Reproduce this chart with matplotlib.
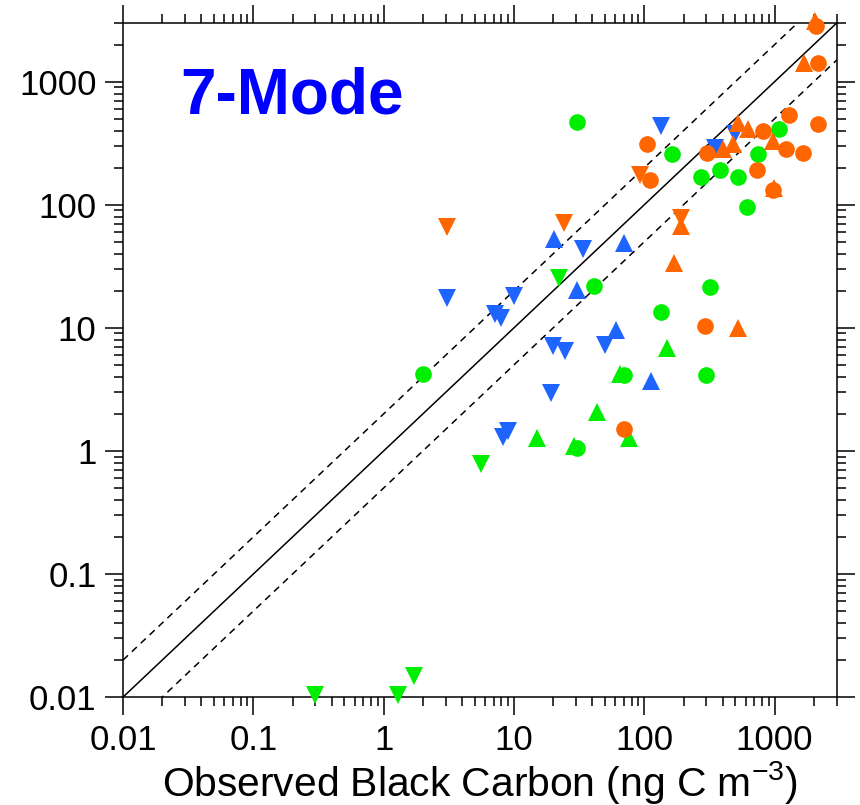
import matplotlib
matplotlib.use("Agg")
import matplotlib.pyplot as plt
import numpy as np
from matplotlib.ticker import LogLocator, FixedLocator, NullFormatter

plt.rcParams.update({'font.family': 'Liberation Sans',
                     'mathtext.fontset': 'custom',
                     'mathtext.rm': 'Liberation Sans',
                     'mathtext.it': 'Liberation Sans:italic'})

# observed (x) vs modelled (y) black carbon, ng C m-3
orange_circle_x = [2080, 2170, 1300, 2170, 817, 1214, 1640, 304, 105, 111, 734, 980, 293, 70.3]
orange_circle_y = [2850, 1430, 540, 456, 400, 286, 265, 265, 314, 160, 190, 133, 10.4, 1.51]
orange_up_x = [2050, 1670, 525, 627, 965, 403, 481, 985, 190, 170, 525]
orange_up_y = [3100, 1430, 465, 416, 332, 286, 314, 138, 67.6, 33.7, 10]
orange_down_x = [93, 192, 3.04, 24.2]
orange_down_y = [173, 78.4, 66.3, 71.4]

blue_up_x = [20.2, 69.6, 30.4, 61, 113]
blue_up_y = [53, 49.2, 20.3, 9.6, 3.7]
blue_down_x = [135, 498, 350, 33.8, 3.04, 10, 7.2, 7.9, 20.1, 24.8, 50.3, 19.4, 8.17, 9.08]
blue_down_y = [440, 378, 291, 44, 17.5, 18.2, 13.0, 12.1, 7.14, 6.5, 7.3, 2.95, 1.3, 1.45]

green_circle_x = [30.4, 1073, 748, 164, 273, 382, 525, 615, 41, 2.02, 135, 320, 69.6, 299, 30.7]
green_circle_y = [470, 416, 260, 260, 169, 193, 169, 96, 21.9, 4.2, 13.5, 21.5, 4.14, 4.14, 1.06]
green_up_x = [150, 65, 43.6, 75.7, 15.1, 29]
green_up_y = [6.9, 4.2, 2.07, 1.27, 1.27, 1.1]
green_down_x = [22.1, 5.54, 0.297, 1.3, 1.7]
green_down_y = [25.5, 0.78, 0.0104, 0.0104, 0.0148]

tick_values = [0.01, 0.1, 1, 10, 100, 1000]
tick_labels = ["0.01", "0.1", "1", "10", "100", "1000"]

c_orange = '#FF6600'
c_blue = '#1E64FF'
c_green = '#00EE00'

fig = plt.figure(figsize=(8.6, 8.05), dpi=100)
ax = fig.add_axes([0.143, 0.134, 0.830, 0.8375])
ax.set_xscale('log')
ax.set_yscale('log')
lims = [0.01, 3000]

# 1:1 and factor of 2 lines
line_x = np.array([0.01, 3000])
ax.plot(line_x, line_x, color='black', lw=1.1, zorder=1)
ax.plot(line_x, 2 * line_x, color='black', lw=1.1, ls=(0, (4.5, 3.5)), zorder=1)
ax.plot(line_x, 0.5 * line_x, color='black', lw=1.1, ls=(0, (4.5, 3.5)), zorder=1)

groups = [
    (green_up_x, green_up_y, c_green, '^'),
    (green_down_x, green_down_y, c_green, 'v'),
    (green_circle_x, green_circle_y, c_green, 'o'),
    (blue_up_x, blue_up_y, c_blue, '^'),
    (blue_down_x, blue_down_y, c_blue, 'v'),
    (orange_up_x, orange_up_y, c_orange, '^'),
    (orange_down_x, orange_down_y, c_orange, 'v'),
    (orange_circle_x, orange_circle_y, c_orange, 'o'),
]
for gx, gy, col, mk in groups:
    ms = 12 if mk == 'o' else 13
    ax.plot(gx, gy, linestyle='none', marker=mk, markersize=ms,
            color=col, markeredgewidth=0, clip_on=False, zorder=3)

for axis in [ax.xaxis, ax.yaxis]:
    axis.set_major_locator(FixedLocator(tick_values))
    axis.set_minor_locator(LogLocator(base=10, subs=np.arange(2, 10)))
    axis.set_minor_formatter(NullFormatter())
ax.set_xticks(tick_values)
ax.set_xticklabels(tick_labels)
ax.set_yticks(tick_values)
ax.set_yticklabels(tick_labels)
ax.set_xlim(lims)
ax.set_ylim(lims)

ax.tick_params(which='both', direction='out', top=True, right=True,
               labeltop=False, labelright=False, width=1.1)
ax.tick_params(which='major', length=13, labelsize=25, pad=6)
ax.tick_params(which='minor', length=6.5)
for sp in ax.spines.values():
    sp.set_linewidth(1.1)

ax.text(0.08, 0.866, "7-Mode", transform=ax.transAxes, color='#0000FF',
        fontsize=46, fontweight='bold', ha='left', va='baseline')

fig.text(0.558, 0.011, r"Observed Black Carbon (ng C m$^{\mathrm{-3}}$)",
         ha='center', va='baseline', fontsize=29.3)

plt.savefig("out.png", dpi=100)
